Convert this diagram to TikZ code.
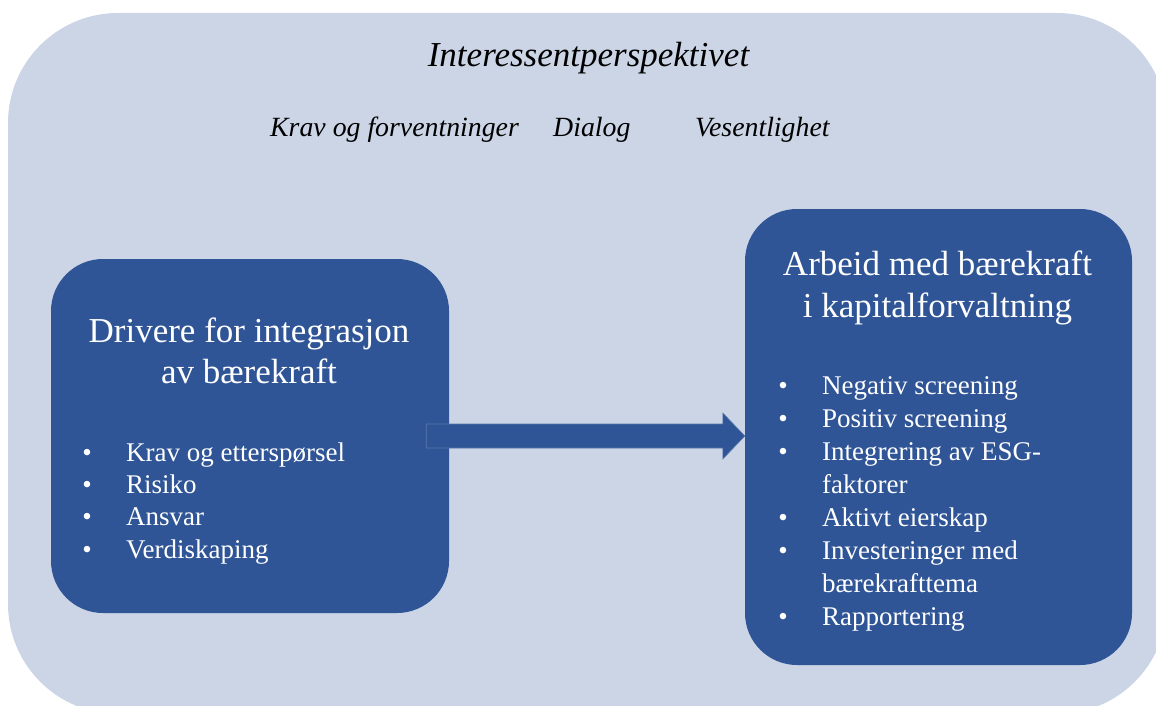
\documentclass[tikz,border=0pt]{standalone}
\usepackage{fontspec}
\setmainfont{Liberation Serif}
\usetikzlibrary{calc}
\definecolor{paneblue}{HTML}{CBD5E6}
\definecolor{boxblue}{HTML}{2F5597}
\definecolor{arrowedge}{HTML}{5B78AD}
\tikzset{
  panel/.style={fill=paneblue, draw=none, rounded corners=110pt, minimum width=1159pt, minimum height=701pt, inner sep=0pt},
  topicbox/.style={fill=boxblue, draw=none, rounded corners=52pt, inner sep=0pt},
  heading/.style={inner sep=0pt, anchor=base, font=\itshape\fontsize{35}{42}\selectfont},
  keyword/.style={inner sep=0pt, anchor=base west, font=\itshape\fontsize{27.8}{32}\selectfont},
  boxtitle/.style={inner sep=0pt, anchor=base, text=white, font=\fontsize{35}{42}\selectfont},
  itemtext/.style={inner sep=0pt, anchor=base west, text=white, font=\fontsize{27}{32}\selectfont},
  bulletmark/.style={inner sep=0pt, anchor=base, text=white, font=\fontsize{27}{32}\selectfont},
}
\begin{document}
\begin{tikzpicture}[x=1pt, y=-1pt]
  \useasboundingbox (0,0) rectangle (1156,706);
  \clip (0,0) rectangle (1156,706);

  % stakeholder frame
  \node[panel] (frame) at (587.5,363.5) {};
  \node[heading] (persp) at (588.5,67) {Interessentperspektivet};
  \node[keyword] (kw1) at (270,137) {Krav og forventninger};
  \node[keyword] (kw2) at (553,137) {Dialog};
  \node[keyword] (kw3) at (695,137) {Vesentlighet};

  % left box: drivers
  \node[topicbox, minimum width=398pt, minimum height=354pt] (drivers) at (250,436) {};
  \node[boxtitle] (dt1) at (249,342) {Drivere for integrasjon};
  \node[boxtitle] (dt2) at (249,383) {av bærekraft};
  \foreach \t [count=\i] in {Krav og etterspørsel, Risiko, Ansvar, Verdiskaping} {
    \pgfmathsetmacro{\yy}{461+32.4*(\i-1)}
    \node[bulletmark] (db\i) at (87,\yy) {•};
    \node[itemtext] (di\i) at (126,\yy) {\t};
  }

  % right box: sustainability work in asset management
  \node[topicbox, minimum width=387pt, minimum height=456pt] (work) at (938.5,437) {};
  \node[boxtitle] (wt1) at (937.5,275) {Arbeid med bærekraft};
  \node[boxtitle] (wt2) at (937.5,317) {i kapitalforvaltning};
  \node[bulletmark] (wb1) at (783,394) {•};
  \node[itemtext] (wi1) at (822,394) {Negativ screening};
  \node[bulletmark] (wb2) at (783,427) {•};
  \node[itemtext] (wi2) at (822,427) {Positiv screening};
  \node[bulletmark] (wb3) at (783,460) {•};
  \node[itemtext] (wi3) at (822,460) {Integrering av ESG-};
  \node[itemtext] (wi3b) at (822,493) {faktorer};
  \node[bulletmark] (wb4) at (783,526) {•};
  \node[itemtext] (wi4) at (822,526) {Aktivt eierskap};
  \node[bulletmark] (wb5) at (783,559) {•};
  \node[itemtext] (wi5) at (822,559) {Investeringer med};
  \node[itemtext] (wi5b) at (822,592) {bærekrafttema};
  \node[bulletmark] (wb6) at (783,625) {•};
  \node[itemtext] (wi6) at (822,625) {Rapportering};

  % block arrow from drivers to work
  \coordinate (tip) at (work.west |- drivers.east);
  \fill[boxblue, draw=arrowedge, line width=0.6pt]
    ($(drivers.east)+(-23,-12)$) -- ($(tip)+(-22,-12)$) -- ($(tip)+(-22,-23)$)
    -- (tip) -- ($(tip)+(-22,23)$) -- ($(tip)+(-22,12)$)
    -- ($(drivers.east)+(-23,12)$) -- cycle;
\end{tikzpicture}
\end{document}
